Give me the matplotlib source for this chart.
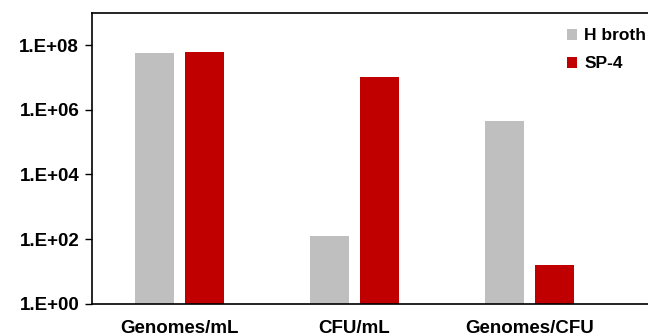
import matplotlib.pyplot as plt
import numpy as np

categories = ['Genomes/mL', 'CFU/mL', 'Genomes/CFU']
h_broth = [5.5e7, 1.2e2, 4.6e5]
sp4 = [6.2e7, 1.0e7, 15.7]
series_names = ['H broth', 'SP-4']
colors = ['#BFBFBF', '#C00000']
ytick_vals = [1e0, 1e2, 1e4, 1e6, 1e8]
ytick_labels = ['1.E+00', '1.E+02', '1.E+04', '1.E+06', '1.E+08']

plt.rcParams['font.family'] = ['Liberation Sans', 'DejaVu Sans']
plt.rcParams['font.weight'] = 'bold'

fig = plt.figure(figsize=(6.48, 3.36), dpi=100)
ax = fig.add_axes([91.7 / 648, 1 - 303.7 / 336, 1 - 91.7 / 648, (303.7 - 12.7) / 336])

x = np.arange(len(categories))
w = 39 / 175
off = 25 / 175
ax.bar(x - off, h_broth, width=w, color=colors[0], label=series_names[0])
ax.bar(x + off, sp4, width=w, color=colors[1], label=series_names[1])

ax.set_yscale('log')
ax.set_ylim(1, 1e9)
ax.set_xlim(-0.5, (648 - 91.7) / 175 - 0.5)
ax.set_yticks(ytick_vals)
ax.set_yticklabels(ytick_labels)
ax.yaxis.set_minor_locator(plt.NullLocator())
ax.set_xticks(x)
ax.set_xticklabels(categories, fontsize=13.5, fontweight='bold')
ax.tick_params(axis='x', length=0, pad=12)
ax.tick_params(axis='y', length=5, width=1, direction='out', labelsize=13.5, pad=4)
for s in ax.spines.values():
    s.set_linewidth(1.2)
ax.spines['right'].set_visible(False)

ax.legend(loc='upper right', bbox_to_anchor=(1.025, 1.0), frameon=False,
          handlelength=0.6, handleheight=0.6, handletextpad=0.4,
          labelspacing=0.75, borderaxespad=0.5, prop={'weight': 'bold', 'size': 12.5})

fig.savefig('out.png', dpi=100)
